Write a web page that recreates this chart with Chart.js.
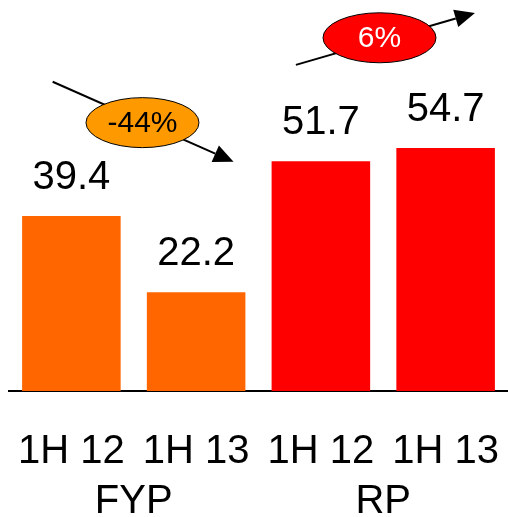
<!DOCTYPE html>
<html>
<head>
<meta charset="utf-8">
<script src="https://cdn.jsdelivr.net/npm/chart.js@4"></script>
<style>
  html, body { margin: 0; padding: 0; background: #fff; }
  #wrap { width: 508px; height: 517px; }
</style>
</head>
<body>
<div id="wrap"><canvas id="c"></canvas></div>
<script>
// Half-year figures, FYP then RP
const periods = ['1H 12', '1H 13', '1H 12', '1H 13'];
const values = [39.4, 22.2, 51.7, 54.7];
const barColors = ['#FF6600', '#FF6600', '#FF0000', '#FF0000'];
const groups = ['FYP', 'RP'];
const groupMembers = [[0, 1], [2, 3]];

const FONT = '"Liberation Sans", Arial, Helvetica, sans-serif';

// Percentage change between the two halves of each group
function pctChange(a, b) {
  const p = Math.round((values[b] - values[a]) / values[a] * 100);
  return p + '%';
}

// Trend arrows with a labelled badge, placed in axis units (category index, value)
const trendBadges = [
  { from: [-0.15, 69.6], to: [1.3, 51.6], badge: [0.57, 60.4], text: pctChange(0, 1), fill: '#FF9900', ink: '#000000' },
  { from: [1.8, 73.4], to: [3.235, 85.1], badge: [2.47, 79.5], text: pctChange(2, 3), fill: '#FF0000', ink: '#FFFFFF' }
];

const annotate = {
  id: 'annotate',
  afterDatasetsDraw(chart) {
    const ctx = chart.ctx;
    const xs = chart.scales.x, ys = chart.scales.y;
    const meta = chart.getDatasetMeta(0);
    const base = chart.chartArea.bottom;
    ctx.save();

    ctx.fillStyle = '#000';
    ctx.font = '40px ' + FONT;
    ctx.textAlign = 'center';
    ctx.textBaseline = 'alphabetic';

    // value labels above bars
    meta.data.forEach((bar, i) => {
      ctx.fillText(values[i].toFixed(1), bar.x, bar.y - 27);
    });

    // period labels under the axis
    periods.forEach((p, i) => {
      ctx.fillText(p, xs.getPixelForTick(i), base + 72);
    });

    // group names under the period labels
    groups.forEach((g, gi) => {
      const idx = groupMembers[gi];
      const x = idx.reduce((s, i) => s + xs.getPixelForTick(i), 0) / idx.length;
      ctx.fillText(g, x, base + 122);
    });

    // trend arrows and badges
    trendBadges.forEach(t => {
      const x0 = xs.getPixelForValue(t.from[0]), y0 = ys.getPixelForValue(t.from[1]);
      const x1 = xs.getPixelForValue(t.to[0]), y1 = ys.getPixelForValue(t.to[1]);
      const ang = Math.atan2(y1 - y0, x1 - x0);
      const head = 20, half = 9;
      const bx = x1 - head * Math.cos(ang), by = y1 - head * Math.sin(ang);
      ctx.strokeStyle = '#000';
      ctx.lineWidth = 2;
      ctx.beginPath();
      ctx.moveTo(x0, y0);
      ctx.lineTo(bx, by);
      ctx.stroke();
      ctx.fillStyle = '#000';
      ctx.beginPath();
      ctx.moveTo(x1, y1);
      ctx.lineTo(bx + half * Math.sin(ang), by - half * Math.cos(ang));
      ctx.lineTo(bx - half * Math.sin(ang), by + half * Math.cos(ang));
      ctx.closePath();
      ctx.fill();

      const cx = xs.getPixelForValue(t.badge[0]), cy = ys.getPixelForValue(t.badge[1]);
      ctx.beginPath();
      ctx.ellipse(cx, cy, 56.5, 25, 0, 0, Math.PI * 2);
      ctx.fillStyle = t.fill;
      ctx.fill();
      ctx.lineWidth = 1;
      ctx.strokeStyle = '#000';
      ctx.stroke();
      ctx.fillStyle = t.ink;
      ctx.font = '30px ' + FONT;
      ctx.textAlign = 'center';
      ctx.textBaseline = 'middle';
      ctx.fillText(t.text, cx, cy + 1);
    });

    ctx.restore();
  }
};

new Chart(document.getElementById('c'), {
  type: 'bar',
  data: {
    labels: periods,
    datasets: [{
      data: values,
      backgroundColor: barColors,
      borderWidth: 0,
      barPercentage: 0.79,
      categoryPercentage: 1
    }]
  },
  options: {
    responsive: true,
    maintainAspectRatio: false,
    animation: false,
    layout: { padding: { left: 9, right: 0, top: 0, bottom: 126 } },
    plugins: { legend: { display: false }, tooltip: { enabled: false } },
    scales: {
      x: {
        grid: { display: false, drawTicks: false },
        border: { display: true, color: '#000', width: 2 },
        ticks: { display: false }
      },
      y: { display: false, min: 0, max: 88 }
    }
  },
  plugins: [annotate]
});
</script>
</body>
</html>
